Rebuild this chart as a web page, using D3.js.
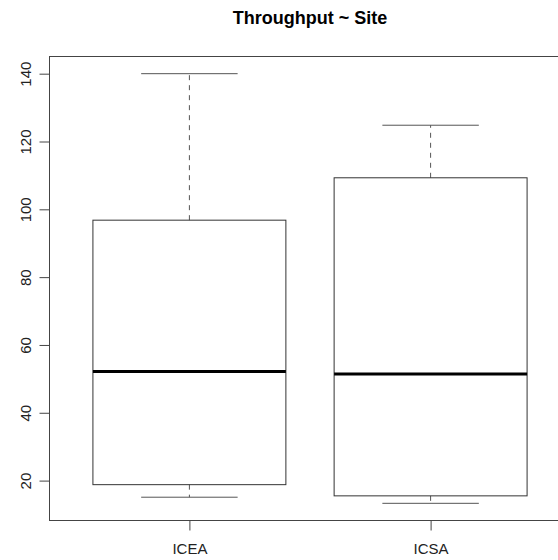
<!DOCTYPE html>
<html>
<head>
<meta charset="utf-8">
<script src="https://cdn.jsdelivr.net/npm/d3@7"></script>
<style>
  body { margin: 0; background: #fff; }
  svg { display: block; font-family: "Liberation Sans", Arial, sans-serif; }
</style>
</head>
<body>
<svg id="chart" width="558" height="560"></svg>
<script>
// Box statistics per site
const sites = ["ICEA", "ICSA"];
const lowerWhisker = [15.1, 13.3];
const lowerHinge = [18.8, 15.5];
const medians = [52.2, 51.4];
const upperHinge = [96.8, 109.3];
const upperWhisker = [140, 124.8];
const yTicks = [20, 40, 60, 80, 100, 120, 140];

const svg = d3.select("#chart");

// R style extents: 4% padding on both sides
const yMin = d3.min(lowerWhisker), yMax = d3.max(upperWhisker);
const yPad = (yMax - yMin) * 0.04;
const xPad = sites.length * 0.04;

const plot = { left: 49.5, right: 570.5, top: 56.5, bottom: 520.5 };

const x = d3.scaleLinear()
    .domain([0.5 - xPad, sites.length + 0.5 + xPad])
    .range([plot.left, plot.right]);

const y = d3.scaleLinear()
    .domain([yMin - yPad, yMax + yPad])
    .range([plot.bottom, plot.top]);

const boxes = sites.map((s, i) => ({
    site: s,
    pos: i + 1,
    lw: lowerWhisker[i],
    q1: lowerHinge[i],
    med: medians[i],
    q3: upperHinge[i],
    uw: upperWhisker[i]
}));

// Title
svg.append("text")
    .attr("x", (plot.left + plot.right) / 2)
    .attr("y", 24)
    .attr("text-anchor", "middle")
    .attr("font-size", "18px")
    .attr("font-weight", "bold")
    .text("Throughput ~ Site");

// Frame
svg.append("rect")
    .attr("x", plot.left)
    .attr("y", plot.top)
    .attr("width", plot.right - plot.left)
    .attr("height", plot.bottom - plot.top)
    .attr("fill", "none")
    .attr("stroke", "#444")
    .attr("stroke-width", 1);

// Y axis
const yAxis = svg.append("g")
    .attr("transform", `translate(${plot.left},0)`)
    .call(d3.axisLeft(y).tickValues(yTicks).tickSize(10).tickSizeOuter(0));
yAxis.select(".domain").remove();
yAxis.selectAll(".tick line").attr("stroke", "#444");
yAxis.selectAll(".tick text")
    .attr("x", null)
    .attr("dy", null)
    .attr("transform", "translate(-18.5,0) rotate(-90)")
    .attr("text-anchor", "middle")
    .attr("fill", "#222")
    .attr("font-size", "15px");

// X axis
const xAxis = svg.append("g")
    .attr("transform", `translate(0,${plot.bottom})`)
    .call(d3.axisBottom(x)
        .tickValues(boxes.map(d => d.pos))
        .tickFormat(d => sites[d - 1])
        .tickSize(10)
        .tickSizeOuter(0));
xAxis.select(".domain").remove();
xAxis.selectAll(".tick line").attr("stroke", "#444");
xAxis.selectAll(".tick text")
    .attr("y", 23)
    .attr("dy", "0.71em")
    .attr("fill", "#222")
    .attr("font-size", "15px");

const boxHalf = 0.4, capHalf = 0.2;

const g = svg.selectAll(".box")
    .data(boxes)
    .enter()
    .append("g")
    .attr("class", "box");

// Whiskers (dashed)
g.append("line")
    .attr("x1", d => x(d.pos)).attr("x2", d => x(d.pos))
    .attr("y1", d => y(d.q3)).attr("y2", d => y(d.uw))
    .attr("stroke", "#555")
    .attr("stroke-dasharray", "5,5");
g.append("line")
    .attr("x1", d => x(d.pos)).attr("x2", d => x(d.pos))
    .attr("y1", d => y(d.q1)).attr("y2", d => y(d.lw))
    .attr("stroke", "#555")
    .attr("stroke-dasharray", "5,5");

// Whisker caps
g.append("line")
    .attr("x1", d => x(d.pos - capHalf)).attr("x2", d => x(d.pos + capHalf))
    .attr("y1", d => y(d.uw)).attr("y2", d => y(d.uw))
    .attr("stroke", "#555");
g.append("line")
    .attr("x1", d => x(d.pos - capHalf)).attr("x2", d => x(d.pos + capHalf))
    .attr("y1", d => y(d.lw)).attr("y2", d => y(d.lw))
    .attr("stroke", "#555");

// Boxes
g.append("rect")
    .attr("x", d => x(d.pos - boxHalf))
    .attr("width", d => x(d.pos + boxHalf) - x(d.pos - boxHalf))
    .attr("y", d => y(d.q3))
    .attr("height", d => y(d.q1) - y(d.q3))
    .attr("fill", "none")
    .attr("stroke", "#333");

// Medians
g.append("line")
    .attr("x1", d => x(d.pos - boxHalf)).attr("x2", d => x(d.pos + boxHalf))
    .attr("y1", d => y(d.med)).attr("y2", d => y(d.med))
    .attr("stroke", "#000")
    .attr("stroke-width", 3);
</script>
</body>
</html>
